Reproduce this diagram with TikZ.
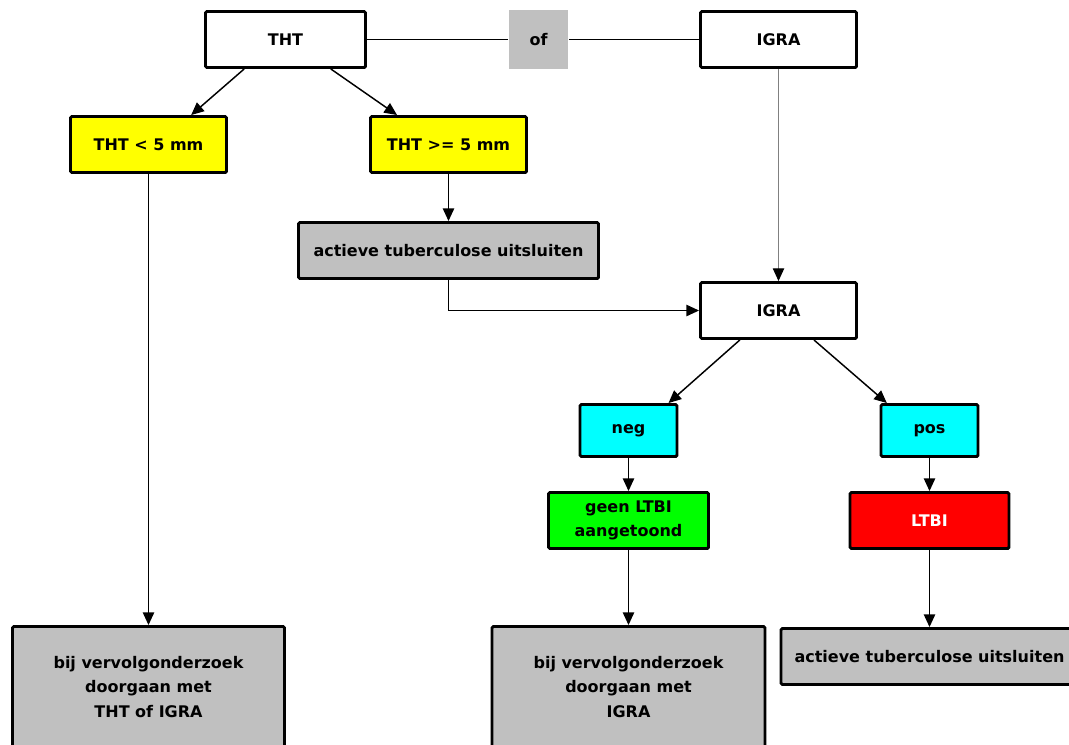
\documentclass[tikz,border=0pt]{standalone}
\usepackage{fontspec}
\setmainfont{DejaVu Sans}
\usetikzlibrary{arrows.meta}
\definecolor{boxgray}{RGB}{192,192,192}
\definecolor{hiyellow}{RGB}{255,255,0}
\definecolor{hicyan}{RGB}{0,255,255}
\definecolor{higreen}{RGB}{0,255,0}
\definecolor{hired}{RGB}{255,0,0}
\begin{document}
\begin{tikzpicture}[x=0.75pt,y=-0.75pt,
  box/.style={draw=black, line width=2.2pt, rounded corners=1pt, inner sep=0pt,
    align=center, font=\bfseries\fontsize{12}{18.3}\selectfont},
  wh/.style 2 args={minimum width=#1*0.75pt, minimum height=#2*0.75pt},
  arr/.style={line width=1.1pt, -{Triangle[length=9.5pt,width=8.5pt]}},
  link/.style={line width=1.1pt},
  thin/.style={draw=gray, line width=0.8pt, -{Triangle[length=9.5pt,width=8.5pt,color=black]}}
]
\clip (0,0) rectangle (1069,744);
\fill[white] (0,0) rectangle (1069,744);

% top row
\node[box, wh={160}{56}] (tht) at (285.5,39.5) {THT};
\node[box, draw=none, fill=boxgray, rounded corners=0pt, wh={59}{59}] (of) at (538.5,39.5) {of};
\node[box, wh={156}{56}] (igraA) at (778.5,39.5) {IGRA};

% THT outcomes
\node[box, fill=hiyellow, wh={156}{56}] (lt5) at (148.5,144.5) {THT < 5 mm};
\node[box, fill=hiyellow, wh={156}{56}] (ge5) at (448.5,144.5) {THT >= 5 mm};
\node[box, fill=boxgray, wh={300}{56}] (act1) at (448.5,250.5) {actieve tuberculose uitsluiten};

% IGRA branch
\node[box, wh={156}{56}] (igraB) at (778.5,310.5) {IGRA};
\node[box, fill=hicyan, wh={97}{52}] (neg) at (628.5,430.5) {neg};
\node[box, fill=hicyan, wh={97}{52}] (pos) at (929.5,430.5) {pos};
\node[box, fill=higreen, wh={160}{56}] (geen) at (628.5,520.5) {geen LTBI\\aangetoond};
\node[box, fill=hired, text=white, wh={159}{56}] (ltbi) at (929.5,520.5) {LTBI};

% bottom row
\node[box, fill=boxgray, wh={272}{121}] (bijA) at (148.5,687) {bij vervolgonderzoek\\doorgaan met\\THT of IGRA};
\node[box, fill=boxgray, wh={273}{121}] (bijB) at (628.5,687) {bij vervolgonderzoek\\doorgaan met\\IGRA};
\node[box, fill=boxgray, wh={297}{56}] (act2) at (929.5,656.5) {actieve tuberculose uitsluiten};

% connectors
\draw[link] (tht.east) -- (of.west);
\draw[link] (of.east) -- (igraA.west);
\draw[arr] ([xshift=-31pt]tht.south) -- ([xshift=32pt]lt5.north);
\draw[arr] ([xshift=34pt]tht.south) -- ([xshift=-38.6pt]ge5.north);
\draw[arr] (lt5.south) -- (bijA.north);
\draw[arr] (ge5.south) -- (act1.north);
\draw[arr] (act1.south) |- (igraB.west);
\draw[thin] (igraA.south) -- (igraB.north);
\draw[arr] ([xshift=-29pt]igraB.south) -- ([xshift=30pt]neg.north);
\draw[arr] ([xshift=26.6pt]igraB.south) -- ([xshift=-32pt]pos.north);
\draw[arr] (neg.south) -- (geen.north);
\draw[arr] (pos.south) -- (ltbi.north);
\draw[arr] (geen.south) -- (bijB.north);
\draw[arr] (ltbi.south) -- (act2.north);
\end{tikzpicture}
\end{document}
